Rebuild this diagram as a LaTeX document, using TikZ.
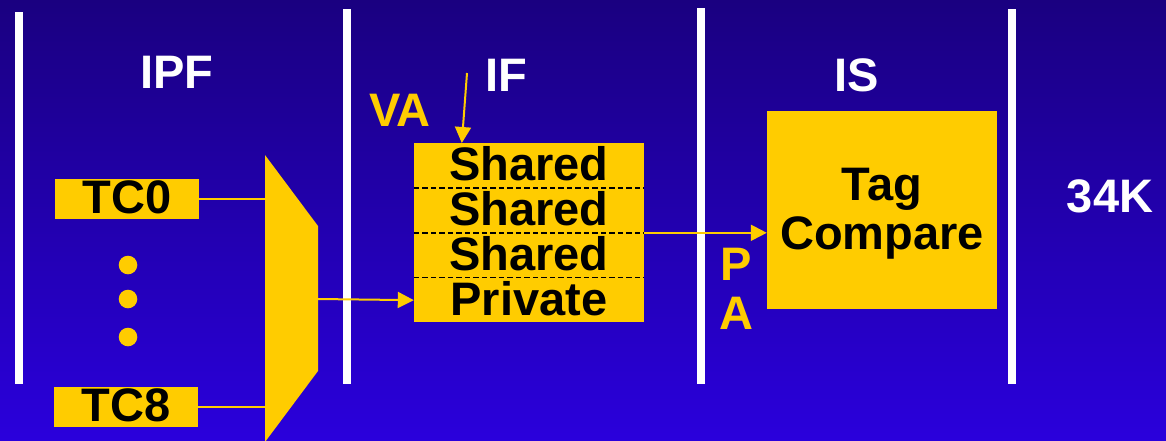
\documentclass[tikz,border=0pt]{standalone}
\usepackage{fontspec}
\setmainfont{Liberation Sans}
\usetikzlibrary{arrows.meta, positioning}
\definecolor{slidetop}{HTML}{1A0080}
\definecolor{slidebot}{HTML}{2A00DC}
\definecolor{gold}{HTML}{FFCC00}
\tikzset{
  font={\fontsize{47}{49}\selectfont\bfseries},
  stage/.style={text=white},
  addr/.style={text=gold, align=center},
  ctx/.style={fill=gold, shape=rectangle, minimum width=144pt, minimum height=40pt, inner sep=0pt, text height=30pt, text depth=2pt},
  slot/.style={fill=gold, shape=rectangle, minimum width=230pt, minimum height=44.5pt, inner sep=0pt, text height=32pt, text depth=2pt},
  wire/.style={draw=gold, line width=2pt},
  feed/.style={wire, -{Triangle[length=16pt,width=16pt]}}}
\begin{document}
\begin{tikzpicture}[x=1pt, y=-1pt]
  \useasboundingbox (0,0) rectangle (1166,440);
  \shade[top color=slidetop, bottom color=slidebot] (0,0) rectangle (1166,440);
  \foreach \bx/\by in {15/12, 343/9, 697/8, 1008/9}
    \fill[white] (\bx,\by) rectangle (\bx+7.5,384);

  \node (ipf) [stage] at (177,72) {IPF};
  \node (ifs) [stage] at (506,75) {IF};
  \node (iss) [stage] at (857,75) {IS};
  \node (sz) [stage] at (1110,196) {34K};

  \node (tc0) [ctx] at (127,199) {TC0};
  \node (tc8) [ctx] at (126,407) {TC8};
  \foreach \dy in {265,299,337}
    \fill[gold] (128,\dy) circle[radius=9.3pt];

  \coordinate (muxtl) at (265,155);
  \coordinate (muxout) at (318,299);
  \fill[gold] (muxtl) -- (318,226) -- (318,371) -- (265,442) -- cycle;

  \node (s1) [slot, anchor=north] at (529,143) {Shared};
  \node (s2) [slot, below=0pt of s1] {Shared};
  \node (s3) [slot, below=0pt of s2] {Shared};
  \node (s4) [slot, below=0pt of s3] {Private};
  \foreach \r in {s1,s2,s3}
    \draw[black, line width=1.4pt, dash pattern=on 5.5pt off 3pt] (\r.south west) -- (\r.south east);

  \node (tag) [fill=gold, shape=rectangle, inner sep=0pt] at (882,210) {\parbox[c][198pt][c]{230pt}{\vspace*{7.2pt}\centering Tag\\Compare}};

  \node (va) [addr] at (400,110) {VA};
  \node (pa) [addr] at (736,289) {P\\A};
  \coordinate (vasrc) at (467,73);

  \draw[wire] (tc0.east) -- (tc0.east -| muxtl);
  \draw[wire] (tc8.east) -- (tc8.east -| muxtl);
  \draw[feed] (muxout) -- (s4.west);
  \draw[feed] (vasrc) -- ([xshift=48pt]s1.north west);
  \draw[feed] (s2.south east) -- (s2.south east -| tag.west);
\end{tikzpicture}
\end{document}
